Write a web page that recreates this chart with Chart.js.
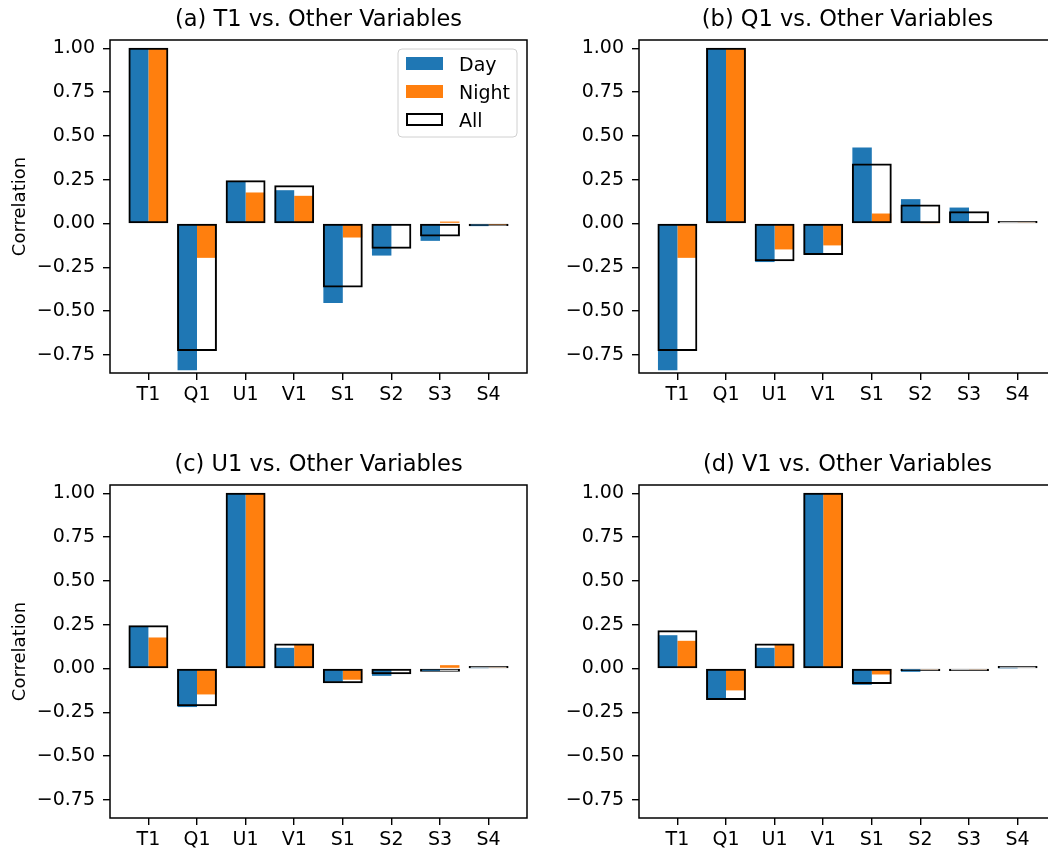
<!DOCTYPE html>
<html>
<head>
<meta charset="utf-8">
<title>Correlation by variable</title>
<script src="https://cdn.jsdelivr.net/npm/chart.js@4.4.1/dist/chart.umd.min.js"></script>
<style>
  html, body { margin: 0; padding: 0; background: #fff; overflow: hidden; }
  body { width: 1048px; height: 849px; position: relative; }
  canvas { position: absolute; }
</style>
</head>
<body>
<canvas id="panel-a" width="530" height="420" style="left:0;top:0"></canvas>
<canvas id="panel-b" width="530" height="420" style="left:529px;top:0"></canvas>
<canvas id="panel-c" width="530" height="420" style="left:0;top:445px"></canvas>
<canvas id="panel-d" width="530" height="420" style="left:529px;top:445px"></canvas>
<script>
const categories = ["T1", "Q1", "U1", "V1", "S1", "S2", "S3", "S4"];
const yTicks = [-0.75, -0.5, -0.25, 0, 0.25, 0.5, 0.75, 1.0];

// (a) T1 vs. other variables
const t1Day = [1.0, -0.838, 0.238, 0.19, -0.453, -0.183, -0.099, -0.015];
const t1Night = [1.0, -0.196, 0.177, 0.158, -0.08, -0.003, 0.011, -0.008];
const t1All = [1.0, -0.724, 0.244, 0.215, -0.362, -0.141, -0.072, -0.012];

// (b) Q1 vs. other variables
const q1Day = [-0.838, 1.0, -0.22, -0.173, 0.434, 0.139, 0.091, 0.004];
const q1Night = [-0.196, 1.0, -0.148, -0.125, 0.057, 0.002, 0.006, 0.003];
const q1All = [-0.724, 1.0, -0.213, -0.177, 0.339, 0.105, 0.067, 0.004];

// (c) U1 vs. other variables
const u1Day = [0.238, -0.22, 1.0, 0.118, -0.076, -0.042, -0.015, 0.002];
const u1Night = [0.177, -0.148, 1.0, 0.14, -0.064, -0.003, 0.019, 0.005];
const u1All = [0.244, -0.213, 1.0, 0.14, -0.081, -0.03, -0.015, 0.003];

// (d) V1 vs. other variables
const v1Day = [0.19, -0.173, 0.118, 1.0, -0.093, -0.019, -0.004, 0.001];
const v1Night = [0.158, -0.125, 0.14, 1.0, -0.034, -0.005, -0.003, 0.004];
const v1All = [0.215, -0.177, 0.14, 1.0, -0.086, -0.008, -0.004, 0.002];

const dayColor = "#1f77b4";
const nightColor = "#ff7f0e";

Chart.defaults.font.family = "'DejaVu Sans', 'Liberation Sans', sans-serif";
Chart.defaults.color = "#000";

const toPoints = (values) => values.map((v, i) => ({ x: i, y: v }));

const fmtTick = (v) => {
  const s = Math.abs(v).toFixed(2);
  return v < 0 ? "\u2212" + s : s;
};

// matplotlib style box round the plot area
const framePlugin = {
  id: "frame",
  afterDatasetsDraw(chart) {
    const { ctx, chartArea: a } = chart;
    ctx.save();
    ctx.strokeStyle = "#000";
    ctx.lineWidth = 1.5;
    ctx.strokeRect(a.left, a.top, a.right - a.left, a.bottom - a.top);
    ctx.restore();
  },
};

// legend inside the plot, upper right
const boxLegend = {
  id: "boxLegend",
  afterDraw(chart, args, opts) {
    if (!opts.show) return;
    const { ctx, chartArea: a } = chart;
    const bx = a.right - 129;
    const by = a.top + 9;
    ctx.save();
    ctx.beginPath();
    ctx.roundRect(bx, by, 119, 88, 4);
    ctx.fillStyle = "rgba(255,255,255,0.8)";
    ctx.fill();
    ctx.strokeStyle = "#d0d0d0";
    ctx.lineWidth = 1;
    ctx.stroke();
    const items = [
      { text: "Day", fill: dayColor, line: null },
      { text: "Night", fill: nightColor, line: null },
      { text: "All", fill: "#fff", line: "#000" },
    ];
    ctx.font = "19px 'DejaVu Sans'";
    ctx.textBaseline = "alphabetic";
    items.forEach((it, i) => {
      const cy = by + 14.5 + i * 28;
      ctx.fillStyle = it.fill;
      ctx.fillRect(bx + 8, cy - 6.5, 37, 13);
      if (it.line) {
        ctx.strokeStyle = it.line;
        ctx.lineWidth = 2;
        ctx.strokeRect(bx + 9, cy - 5.5, 35, 11);
      }
      ctx.fillStyle = "#000";
      ctx.fillText(it.text, bx + 61, cy + 7);
    });
    ctx.restore();
  },
};

function makePanel(id, title, day, night, all, showYLabel, showLegend) {
  const ctx = document.getElementById(id).getContext("2d");
  return new Chart(ctx, {
    type: "bar",
    data: {
      datasets: [
        {
          label: "All",
          data: toPoints(all),
          backgroundColor: "rgba(0,0,0,0)",
          borderColor: "#000",
          borderWidth: 1,
          borderSkipped: false,
          inflateAmount: 0.5,
          minBarLength: 2,
          grouped: false,
          categoryPercentage: 0.8,
          barPercentage: 1.0,
        },
        {
          label: "Day",
          data: toPoints(day),
          backgroundColor: dayColor,
          borderWidth: 0,
          categoryPercentage: 0.8,
          barPercentage: 1.0,
        },
        {
          label: "Night",
          data: toPoints(night),
          backgroundColor: nightColor,
          borderWidth: 0,
          categoryPercentage: 0.8,
          barPercentage: 1.0,
        },
      ],
    },
    options: {
      responsive: false,
      animation: false,
      layout: { padding: { top: 0, right: 3, bottom: 0, left: 0 } },
      plugins: {
        legend: { display: false },
        tooltip: { enabled: false },
        title: {
          display: true,
          text: title,
          fullSize: false,
          color: "#000",
          font: { size: 22.5, weight: "normal" },
          padding: { top: 7, bottom: 6 },
        },
        boxLegend: { show: showLegend },
      },
      scales: {
        x: {
          type: "linear",
          min: -0.79,
          max: 7.79,
          offset: false,
          afterFit: (scale) => {
            scale.height = 47;
          },
          grid: {
            display: true,
            offset: false,
            drawOnChartArea: false,
            drawTicks: true,
            tickLength: 7,
            color: "#000",
            lineWidth: 1.4,
          },
          border: { display: false },
          ticks: {
            stepSize: 1,
            includeBounds: false,
            autoSkip: false,
            maxRotation: 0,
            minRotation: 0,
            padding: 4,
            color: "#000",
            font: { size: 19 },
            callback: (v) => categories[v] ?? "",
          },
        },
        y: {
          min: -0.853,
          max: 1.047,
          afterFit: (scale) => {
            scale.width = 110;
          },
          grid: {
            display: true,
            drawOnChartArea: false,
            drawTicks: true,
            tickLength: 7,
            color: "#000",
            lineWidth: 1.4,
          },
          border: { display: false },
          title: {
            display: showYLabel,
            text: "Correlation",
            color: "#000",
            font: { size: 18 },
            padding: { top: 10, bottom: 0 },
          },
          ticks: {
            stepSize: 0.25,
            includeBounds: false,
            padding: 8,
            color: "#000",
            font: { size: 19 },
            callback: (v) => (yTicks.includes(v) ? fmtTick(v) : ""),
          },
        },
      },
    },
    plugins: [framePlugin, boxLegend],
  });
}

makePanel("panel-a", "(a) T1 vs. Other Variables", t1Day, t1Night, t1All, true, true);
makePanel("panel-b", "(b) Q1 vs. Other Variables", q1Day, q1Night, q1All, false, false);
makePanel("panel-c", "(c) U1 vs. Other Variables", u1Day, u1Night, u1All, true, false);
makePanel("panel-d", "(d) V1 vs. Other Variables", v1Day, v1Night, v1All, false, false);
</script>
</body>
</html>
